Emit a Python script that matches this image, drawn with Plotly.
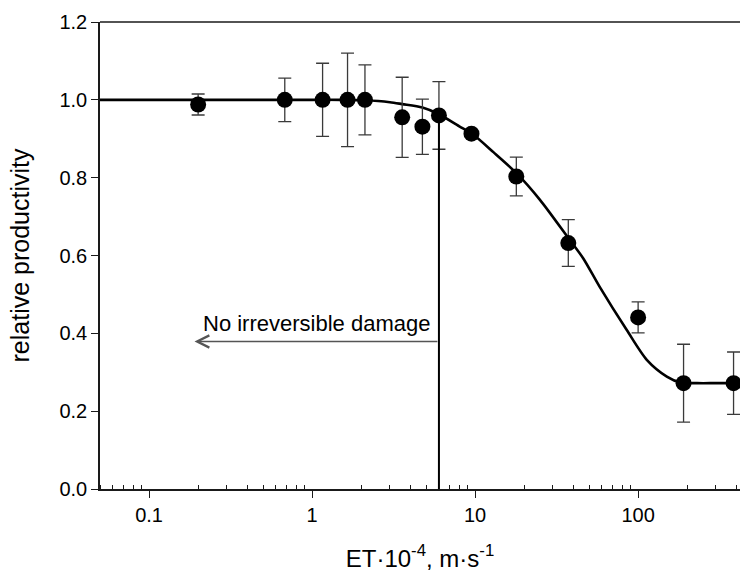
import plotly.graph_objects as go
import math

# Measured points (ET·10^-4 m/s vs relative productivity)
et = [0.2, 0.68, 1.16, 1.65, 2.11, 3.57, 4.75, 6.0, 9.5, 17.9, 37.3, 100, 190, 385]
prod = [0.988, 1.0, 1.0, 1.0, 1.0, 0.955, 0.931, 0.960, 0.913, 0.803, 0.632, 0.441, 0.272, 0.272]
err = [0.027, 0.056, 0.094, 0.12, 0.09, 0.103, 0.071, 0.087, 0.0, 0.05, 0.06, 0.04, 0.10, 0.08]

# Fitted curve
curve_x = [0.05, 0.5, 1.0, 1.5, 2.1, 3.0, 3.57, 4.75, 6.0, 8.0, 9.5, 13, 18, 25, 37, 46, 58,
           85, 113, 150, 181, 230, 300, 420]
curve_y = [1.0, 1.0, 1.0, 1.0, 0.999, 0.994, 0.989, 0.980, 0.963, 0.932, 0.914, 0.865, 0.811,
           0.743, 0.647, 0.593, 0.52, 0.409, 0.332, 0.289, 0.274, 0.272, 0.272, 0.272]

# Threshold marker and arrow
threshold_x = 6.0
threshold_top = 0.96
arrow_y = 0.379
arrow_end_x = 0.19
label_x = 1.07
label_y = 0.424
label_text = "No irreversible damage"

x_ticks = [0.1, 1, 10, 100]
x_ticktext = ["0.1", "1", "10", "100"]
decades = [0.01, 0.1, 1, 10, 100]
minor_digits = [2, 3, 4, 5, 6, 7, 8, 9]
x_minor = [d * m for d in decades for m in minor_digits]
y_ticks = [0.0, 0.2, 0.4, 0.6, 0.8, 1.0, 1.2]

FONT = "Liberation Sans, Arial, sans-serif"
AX = "#1a1a1a"

fig = go.Figure()

fig.add_trace(go.Scatter(
    x=curve_x, y=curve_y, mode="lines",
    line=dict(color="black", width=2.6, shape="spline", smoothing=0.8),
    hoverinfo="skip", showlegend=False,
))

fig.add_trace(go.Scatter(
    x=et, y=prod, mode="markers",
    marker=dict(color="black", size=16, line=dict(width=0)),
    error_y=dict(type="data", array=err, visible=True, color="#3a3a3a",
                 thickness=1.3, width=6.5),
    showlegend=False,
))

# vertical threshold line
fig.add_shape(type="line", xref="x", yref="y",
              x0=threshold_x, x1=threshold_x, y0=0, y1=threshold_top,
              line=dict(color="black", width=2))

# top frame line
fig.add_shape(type="line", xref="paper", yref="paper",
              x0=0, x1=1, y0=1, y1=1, line=dict(color=AX, width=1.5))

# arrow
fig.add_annotation(
    x=math.log10(arrow_end_x), y=arrow_y,
    ax=math.log10(threshold_x), ay=arrow_y,
    xref="x", yref="y", axref="x", ayref="y",
    text="", showarrow=True, arrowhead=5, arrowsize=1.6,
    arrowwidth=1.5, arrowcolor="#555555",
)
fig.add_annotation(
    x=math.log10(label_x), y=label_y, xref="x", yref="y",
    text=label_text, showarrow=False,
    font=dict(family=FONT, size=22, color="black"),
)

fig.update_layout(
    width=740, height=577,
    margin=dict(l=100, r=0, t=22, b=88),
    paper_bgcolor="white", plot_bgcolor="white",
    font=dict(family=FONT, size=20, color="black"),
    xaxis=dict(
        type="log", range=[math.log10(0.05), 2.625],
        tickvals=x_ticks, ticktext=x_ticktext,
        ticks="outside", ticklen=7, tickwidth=1.3, tickcolor=AX,
        showline=True, linecolor=AX, linewidth=1.5,
        showgrid=False, zeroline=False,
        tickfont=dict(family=FONT, size=20),
        minor=dict(tickmode="array", tickvals=x_minor,
                   ticks="inside", ticklen=4, tickwidth=1, tickcolor=AX,
                   showgrid=False),
        title=dict(text="ET·10<sup>-4</sup>, m·s<sup>-1</sup>",
                   font=dict(family=FONT, size=24), standoff=25),
    ),
    yaxis=dict(
        range=[0, 1.2], tickvals=y_ticks,
        tickformat=".1f",
        ticks="outside", ticklen=7, tickwidth=1.3, tickcolor=AX,
        showline=True, linecolor=AX, linewidth=1.5,
        showgrid=False, zeroline=False,
        tickfont=dict(family=FONT, size=20),
        title=dict(text="relative productivity",
                   font=dict(family=FONT, size=25), standoff=23),
    ),
)

fig.write_html("out.html")
